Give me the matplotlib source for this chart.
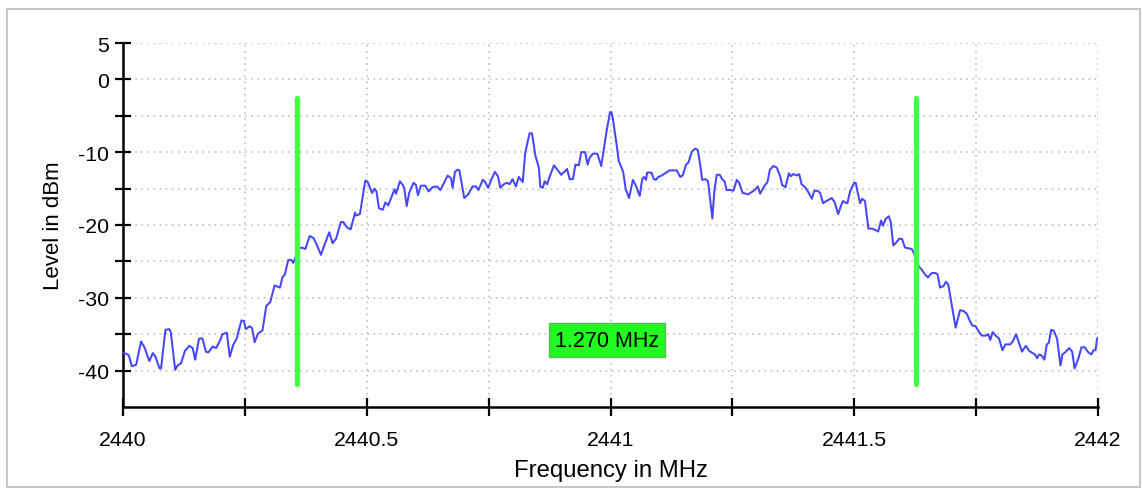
import matplotlib
matplotlib.use("Agg")
import matplotlib.pyplot as plt
from matplotlib.patches import Rectangle

plt.rcParams['font.family'] = ['Liberation Sans', 'DejaVu Sans']

# Spectrum trace (frequency in MHz, level in dBm)
freq_mhz = [
    2440.000, 2440.007, 2440.012, 2440.018, 2440.027, 2440.037, 2440.044, 2440.054, 2440.061, 2440.066,
    2440.075, 2440.078, 2440.087, 2440.095, 2440.098, 2440.107, 2440.112, 2440.119, 2440.127, 2440.136,
    2440.143, 2440.148, 2440.156, 2440.163, 2440.170, 2440.175, 2440.184, 2440.191, 2440.199, 2440.204,
    2440.213, 2440.219, 2440.226, 2440.233, 2440.243, 2440.248, 2440.252, 2440.260, 2440.265, 2440.270,
    2440.277, 2440.286, 2440.294, 2440.302, 2440.311, 2440.322, 2440.327, 2440.332, 2440.339, 2440.345,
    2440.349,
    2440.362, 2440.367, 2440.374, 2440.383, 2440.391, 2440.398, 2440.406, 2440.413, 2440.423, 2440.430,
    2440.437, 2440.447, 2440.452, 2440.459, 2440.467, 2440.476, 2440.478, 2440.486, 2440.492, 2440.497,
    2440.502, 2440.511, 2440.516, 2440.520, 2440.525, 2440.533, 2440.538, 2440.544, 2440.550, 2440.557,
    2440.560, 2440.568, 2440.574, 2440.577, 2440.582, 2440.587, 2440.596, 2440.601, 2440.605, 2440.611,
    2440.620, 2440.627, 2440.635, 2440.644, 2440.651, 2440.658, 2440.666, 2440.673, 2440.676, 2440.681,
    2440.686, 2440.690,
    2440.700, 2440.708, 2440.717, 2440.724, 2440.729, 2440.738, 2440.742, 2440.749, 2440.756, 2440.763,
    2440.769, 2440.774, 2440.781, 2440.788, 2440.793, 2440.799, 2440.806, 2440.812, 2440.820, 2440.825,
    2440.834, 2440.839, 2440.846, 2440.853, 2440.856, 2440.861, 2440.865, 2440.870, 2440.875, 2440.884,
    2440.892, 2440.899, 2440.907, 2440.911, 2440.916, 2440.923, 2440.928, 2440.935, 2440.940, 2440.948,
    2440.953, 2440.957, 2440.964, 2440.973, 2440.981, 2440.992, 2440.999, 2441.002,
    2441.005, 2441.012, 2441.017, 2441.026, 2441.031, 2441.038, 2441.046, 2441.052, 2441.060, 2441.065,
    2441.069, 2441.073, 2441.075, 2441.084, 2441.089, 2441.093, 2441.098, 2441.105, 2441.112, 2441.121,
    2441.136, 2441.143, 2441.148, 2441.155, 2441.160, 2441.167, 2441.174, 2441.179, 2441.184, 2441.188,
    2441.195, 2441.200, 2441.209, 2441.213, 2441.218, 2441.224, 2441.229, 2441.234, 2441.238, 2441.247,
    2441.252, 2441.259, 2441.264, 2441.271, 2441.278, 2441.282, 2441.289, 2441.296, 2441.302, 2441.307,
    2441.316,
    2441.322, 2441.327, 2441.334, 2441.341, 2441.348, 2441.352, 2441.359, 2441.366, 2441.370, 2441.375,
    2441.382, 2441.387, 2441.392, 2441.399, 2441.406, 2441.413, 2441.418, 2441.425, 2441.430, 2441.436,
    2441.443, 2441.454, 2441.460, 2441.467, 2441.473, 2441.477, 2441.481, 2441.486, 2441.491, 2441.496,
    2441.500, 2441.503, 2441.507, 2441.512, 2441.516, 2441.522, 2441.529, 2441.536, 2441.544, 2441.549,
    2441.555, 2441.559, 2441.564, 2441.571, 2441.575, 2441.580, 2441.585, 2441.592, 2441.598, 2441.604,
    2441.611, 2441.618, 2441.622,
    2441.633, 2441.637, 2441.644, 2441.651, 2441.659, 2441.667, 2441.671, 2441.676, 2441.683, 2441.688,
    2441.693, 2441.700, 2441.708, 2441.717, 2441.724, 2441.731, 2441.736, 2441.742, 2441.749, 2441.755,
    2441.762, 2441.770, 2441.775, 2441.779, 2441.784, 2441.790, 2441.797, 2441.804, 2441.810, 2441.820,
    2441.825, 2441.832, 2441.839, 2441.844, 2441.852, 2441.859, 2441.866, 2441.871, 2441.875, 2441.879,
    2441.884, 2441.890, 2441.895, 2441.899, 2441.904, 2441.909, 2441.916, 2441.923, 2441.927, 2441.934,
    2441.941, 2441.947, 2441.952, 2441.960, 2441.966, 2441.973, 2441.979, 2441.986, 2441.991, 2441.995,
    2441.998, 2442.000,
]
level_dbm = [
    -37.6, -37.7, -37.9, -39.4, -39.2, -36.0, -36.8, -38.7, -37.6, -38.0,
    -39.7, -39.7, -34.4, -34.3, -34.7, -39.9, -39.3, -39.0, -37.3, -36.6,
    -36.9, -38.5, -35.6, -35.6, -37.4, -37.5, -36.7, -36.9, -35.9, -35.0,
    -34.8, -38.1, -36.5, -35.6, -33.1, -33.2, -34.3, -33.9, -34.2, -36.1,
    -34.9, -34.5, -31.1, -30.6, -28.3, -28.6, -27.2, -26.8, -24.8, -24.8,
    -25.2,
    -23.2, -23.1, -23.3, -21.5, -21.8, -22.8, -24.1, -22.8, -21.0, -22.5,
    -21.9, -19.6, -19.6, -20.3, -20.6, -18.3, -18.7, -18.5, -16.0, -13.9,
    -14.1, -15.6, -15.0, -15.4, -17.7, -17.9, -16.9, -17.3, -16.3, -15.1,
    -15.7, -14.0, -14.5, -15.0, -17.4, -15.6, -14.2, -14.5, -15.9, -14.6,
    -14.6, -15.4, -14.8, -14.7, -15.2, -14.3, -13.2, -13.6, -14.9, -12.7,
    -12.4, -12.5,
    -16.3, -15.8, -14.7, -14.7, -15.2, -13.8, -14.0, -14.9, -13.7, -12.7,
    -13.3, -14.9, -14.4, -14.2, -14.4, -13.7, -14.7, -13.4, -14.1, -10.1,
    -7.4, -7.4, -10.5, -12.1, -14.7, -14.9, -14.0, -14.4, -13.4, -11.8,
    -12.5, -13.1, -12.6, -12.3, -13.7, -13.7, -11.7, -11.8, -10.0, -10.0,
    -11.7, -10.8, -10.2, -10.2, -11.9, -7.1, -4.5, -4.5,
    -5.5, -8.7, -11.2, -12.7, -15.0, -16.3, -13.8, -14.6, -16.0, -13.7,
    -13.4, -13.8, -12.8, -12.8, -13.7, -13.8, -13.4, -13.2, -12.9, -12.5,
    -12.5, -13.4, -13.2, -11.7, -11.4, -9.9, -9.5, -9.7, -11.7, -13.8,
    -13.7, -14.0, -19.1, -15.3, -13.1, -13.1, -13.7, -14.0, -15.2, -15.2,
    -15.3, -13.8, -14.2, -15.6, -15.7, -15.8, -15.5, -15.2, -14.7, -15.7,
    -14.6,
    -14.1, -12.4, -11.9, -12.1, -13.3, -14.5, -14.8, -12.9, -13.3, -13.0,
    -13.2, -13.0, -14.4, -14.8, -15.5, -16.4, -15.3, -15.3, -15.6, -17.0,
    -16.7, -16.3, -16.9, -18.5, -17.3, -16.7, -16.9, -17.0, -15.5, -14.7,
    -14.2, -14.2, -15.5, -17.0, -16.4, -16.7, -20.5, -20.5, -20.7, -20.9,
    -19.4, -20.1, -19.2, -18.8, -19.6, -22.8, -22.5, -21.9, -21.9, -23.1,
    -23.2, -23.3, -23.8,
    -25.8, -26.0, -26.7, -27.2, -26.6, -26.6, -26.8, -28.6, -28.4, -27.8,
    -28.2, -31.0, -34.1, -31.7, -31.8, -32.2, -33.0, -33.8, -33.9, -34.6,
    -35.2, -35.2, -35.0, -35.8, -34.7, -35.2, -35.6, -37.2, -36.4, -36.4,
    -36.0, -35.0, -36.4, -37.4, -36.6, -37.3, -37.6, -37.8, -38.3, -37.8,
    -37.9, -38.5, -36.4, -36.2, -34.4, -34.5, -35.6, -39.3, -37.8, -37.4,
    -36.9, -37.4, -39.7, -38.3, -36.8, -36.8, -37.4, -37.8, -37.2, -37.2,
    -35.6, -35.5,
]

# Bandwidth markers
marker_freqs = [2440.357, 2441.627]
marker_top = -2.5
marker_bottom = -41.9
marker_label = '1.270 MHz'
label_level = -35.8

y_ticks = [5, 0, -5, -10, -15, -20, -25, -30, -35, -40]
y_ticklabels = ['5', '0', '', '-10', '', '-20', '', '-30', '', '-40']
x_ticks = [2440, 2440.25, 2440.5, 2440.75, 2441, 2441.25, 2441.5, 2441.75, 2442]
x_ticklabels = ['2440', '', '2440.5', '', '2441', '', '2441.5', '', '2442']

fig = plt.figure(figsize=(11.42, 4.89), dpi=100)
ax = fig.add_axes([123 / 1142, 1 - 408 / 489, (1098 - 123) / 1142, (408 - 44) / 489])

# light frame round the whole picture
fig.patches.append(Rectangle((7 / 1142, 1 / 489), 1133 / 1142, 478 / 489,
                             transform=fig.transFigure, fill=False,
                             edgecolor='#c8c8c8', linewidth=1.5))

ax.plot(freq_mhz, level_dbm, color='#4646ff', linewidth=1.45, zorder=3)

for f in marker_freqs:
    ax.plot([f, f], [marker_bottom, marker_top], color='#44ff44', linewidth=3.8,
            solid_capstyle='round', zorder=4)

ax.text(sum(marker_freqs) / 2, label_level, marker_label, ha='center', va='center',
        fontsize=15.5, color='black', zorder=5,
        bbox=dict(boxstyle='square,pad=0.28', facecolor='#22fb22', edgecolor='#5cb85c', linewidth=1))

ax.set_xlim(2440, 2442)
ax.set_ylim(-45, 5)
ax.set_xticks(x_ticks)
ax.set_xticklabels(x_ticklabels)
ax.set_yticks(y_ticks)
ax.set_yticklabels(y_ticklabels)

ax.grid(True, color='#b8b8b8', linestyle=(0, (1, 3)), linewidth=1.1)
ax.set_axisbelow(True)
for s in ['top', 'right']:
    ax.spines[s].set_visible(False)
for s in ['left', 'bottom']:
    ax.spines[s].set_linewidth(1.8)
    ax.spines[s].set_color('black')

ax.tick_params(axis='x', direction='inout', length=13, width=1.6, labelsize=15.3, pad=10)
ax.tick_params(axis='y', direction='inout', length=12, width=1.6, labelsize=15.3, pad=4)

ax.set_xlabel('Frequency in MHz', fontsize=17.2, labelpad=7)
ax.set_ylabel('Level in dBm', fontsize=16, labelpad=10)

fig.savefig('out.png', dpi=100)
